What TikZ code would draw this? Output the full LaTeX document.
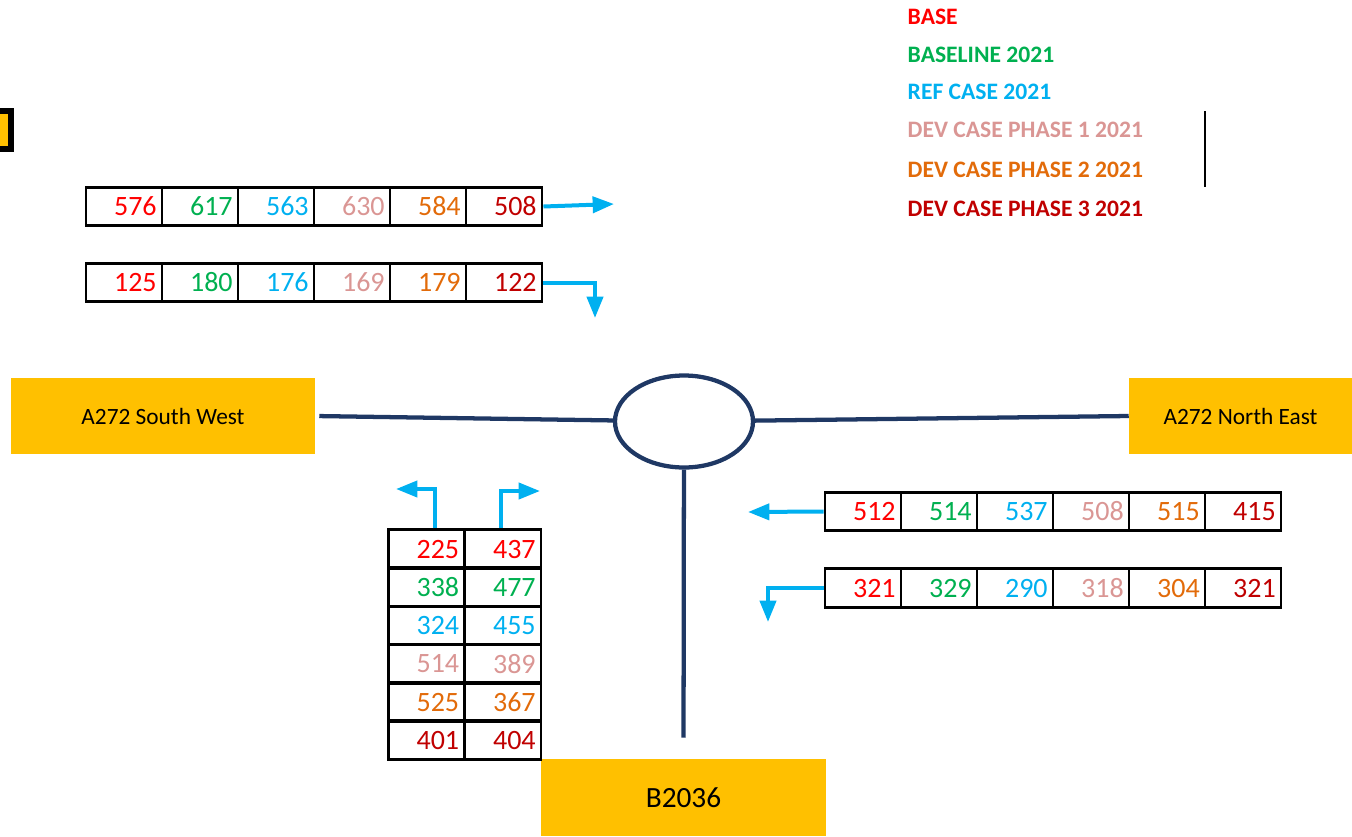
\documentclass[tikz,border=0pt]{standalone}
\usepackage{fontspec}
\setmainfont{Carlito}
\usepackage{tikz}
\usetikzlibrary{arrows.meta,shapes.geometric}
\definecolor{cBase}{HTML}{FF0000}
\definecolor{cLine}{HTML}{00B050}
\definecolor{cRef}{HTML}{00B0F0}
\definecolor{cDevA}{HTML}{DA9694}
\definecolor{cDevB}{HTML}{E26B0A}
\definecolor{cDevC}{HTML}{C00000}
\definecolor{road}{HTML}{1F3864}
\definecolor{zone}{HTML}{FFC000}
\newcommand\CW{57pt}
\newcommand\CH{28.8pt}

\begin{document}
\begin{tikzpicture}[x=0.75pt,y=-0.75pt,>={Triangle[length=16pt,width=12pt]}]

  \tikzstyle{cell}=[rectangle,draw,line width=2.2pt,minimum width=\CW,minimum height=\CH,
                    inner xsep=4pt,text width=49pt,align=right,font=\fontsize{21}{25}\selectfont]
  \tikzstyle{zonebox}=[rectangle,fill=zone,font=\fontsize{17.5}{21}\selectfont]
  \tikzstyle{key}=[anchor=west,font=\bfseries\fontsize{17.7}{20}\selectfont]
  \tikzstyle{flow}=[->,draw=cRef,line width=3pt]
  \tikzstyle{link}=[draw=road,line width=3.2pt]

  \useasboundingbox (0,0) rectangle (1352,836);

  % legend
  \node[key,text=cBase] (L1) at (903,17)  {BASE};
  \node[key,text=cLine] (L2) at (903,55)  {BASELINE 2021};
  \node[key,text=cRef]  (L3) at (903,92)  {REF CASE 2021};
  \node[key,text=cDevA] (L4) at (903,130) {DEV CASE PHASE 1 2021};
  \node[key,text=cDevB] (L5) at (903,170) {DEV CASE PHASE 2 2021};
  \node[key,text=cDevC] (L6) at (903,209) {DEV CASE PHASE 3 2021};
  \draw[line width=2pt] (1205,111) -- (1205,187);
  \draw[fill=zone,line width=4.5pt] (-10,111) rectangle (10.5,149);

  % arms and roundabout
  \node[zonebox,minimum width=228pt,minimum height=57pt]   (SW) at (163,416)     {A272 South West};
  \node[zonebox,minimum width=167.25pt,minimum height=57pt] (NE) at (1240.5,416) {A272 North East};
  \node[zonebox,minimum width=213.75pt,minimum height=57.75pt,font=\fontsize{22}{26}\selectfont] (BR) at (683.5,797.5) {B2036};
  \node[ellipse,draw=road,line width=3.2pt,minimum width=103.5pt,minimum height=69pt] (RB) at (684,421.5) {};

  % A272 SW counts
  \node[cell,text=cBase] (T1a) at (124,206.5) {576};
  \node[cell,text=cLine] (T1b) at (200,206.5) {617};
  \node[cell,text=cRef]  (T1c) at (276,206.5) {563};
  \node[cell,text=cDevA] (T1d) at (352,206.5) {630};
  \node[cell,text=cDevB] (T1e) at (428,206.5) {584};
  \node[cell,text=cDevC] (T1f) at (504,206.5) {508};
  \node[cell,text=cBase] (T2a) at (124,282.5) {125};
  \node[cell,text=cLine] (T2b) at (200,282.5) {180};
  \node[cell,text=cRef]  (T2c) at (276,282.5) {176};
  \node[cell,text=cDevA] (T2d) at (352,282.5) {169};
  \node[cell,text=cDevB] (T2e) at (428,282.5) {179};
  \node[cell,text=cDevC] (T2f) at (504,282.5) {122};

  % A272 NE counts
  \node[cell,text=cBase] (R1a) at (863,511.5)  {512};
  \node[cell,text=cLine] (R1b) at (939,511.5)  {514};
  \node[cell,text=cRef]  (R1c) at (1015,511.5) {537};
  \node[cell,text=cDevA] (R1d) at (1091,511.5) {508};
  \node[cell,text=cDevB] (R1e) at (1167,511.5) {515};
  \node[cell,text=cDevC] (R1f) at (1243,511.5) {415};
  \node[cell,text=cBase] (R2a) at (863,588)  {321};
  \node[cell,text=cLine] (R2b) at (939,588)  {329};
  \node[cell,text=cRef]  (R2c) at (1015,588) {290};
  \node[cell,text=cDevA] (R2d) at (1091,588) {318};
  \node[cell,text=cDevB] (R2e) at (1167,588) {304};
  \node[cell,text=cDevC] (R2f) at (1243,588) {321};

  % B2036 counts
  \node[cell,text=cBase] (B1a) at (426.5,549)   {225};
  \node[cell,text=cBase] (B1b) at (503,549)     {437};
  \node[cell,text=cLine] (B2a) at (426.5,587)   {338};
  \node[cell,text=cLine] (B2b) at (503,587)     {477};
  \node[cell,text=cRef]  (B3a) at (426.5,625.5) {324};
  \node[cell,text=cRef]  (B3b) at (503,625.5)   {455};
  \node[cell,text=cDevA] (B4a) at (426.5,664)   {514};
  \node[cell,text=cDevA] (B4b) at (503,664)     {389};
  \node[cell,text=cDevB] (B5a) at (426.5,702)   {525};
  \node[cell,text=cDevB] (B5b) at (503,702)     {367};
  \node[cell,text=cDevC] (B6a) at (426.5,740)   {401};
  \node[cell,text=cDevC] (B6b) at (503,740)     {404};

  \coordinate (e1) at (614,204);
  \coordinate (e2) at (595,318);
  \coordinate (e3) at (396,489);
  \coordinate (e4) at (540,491);
  \coordinate (e5) at (748,512);
  \coordinate (e6) at (768,622);

\path
(SW.east) edge [link,shorten <=3pt] (RB)
(RB)      edge [link] (NE.west)
(RB)      edge [link,shorten >=15.75pt] (BR.north)
;
\draw[flow] (T1f.east) -- (e1);
\draw[flow] (T2f.east) -| (e2);
\draw[flow] ([xshift=6pt]B1a.north) |- (e3);
\draw[flow] ([xshift=-1.5pt]B1b.north) |- (e4);
\draw[flow] (R1a.west) -- (e5);
\draw[flow] (R2a.west) -| (e6);
\end{tikzpicture}
\end{document}
